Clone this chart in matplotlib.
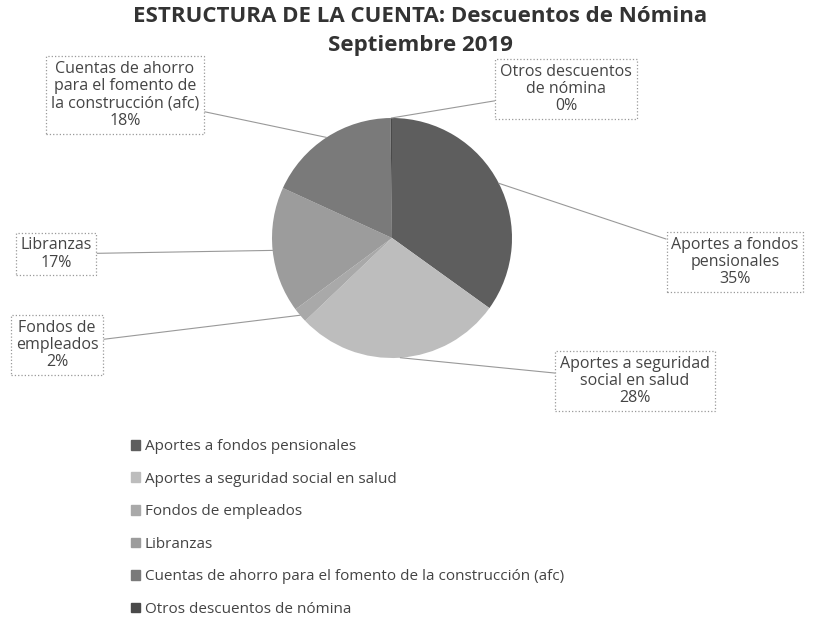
import numpy as np
import matplotlib.pyplot as plt
from matplotlib.patches import Patch

# slices, clockwise from 12 o'clock
labels = ['Aportes a fondos pensionales',
          'Aportes a seguridad social en salud',
          'Fondos de empleados',
          'Libranzas',
          'Cuentas de ahorro para el fomento de la construcción (afc)',
          'Otros descuentos de nómina']
box_labels = ['Aportes a fondos\npensionales',
              'Aportes a seguridad\nsocial en salud',
              'Fondos de\nempleados',
              'Libranzas',
              'Cuentas de ahorro\npara el fomento de\nla construcción (afc)',
              'Otros descuentos\nde nómina']
values = [35, 28, 2, 17, 18, 0.2]
pct_text = ['35%', '28%', '2%', '17%', '18%', '0%']
colors = ['#5e5e5e', '#bdbdbd', '#a9a9a9', '#9c9c9c', '#7a7a7a', '#4a4a4a']

# label box centres in pixel coords (x, y from top)
box_pos = [(735, 262), (635, 381), (57, 345), (56, 254), (125, 95), (566, 89)]

W, H = 837, 618
plt.rcParams['font.family'] = ['Open Sans', 'DejaVu Sans']

fig = plt.figure(figsize=(W/100, H/100), dpi=100)
ax = fig.add_axes([0, 0, 1, 1])

cx, cy, r = 392, 238, 120
# y axis inverted: counterclockwise in data reads clockwise on screen
wedges, _ = ax.pie(values, colors=colors, center=(cx, cy), radius=r,
                   startangle=-90, counterclock=True, frame=True,
                   wedgeprops=dict(linewidth=0))
ax.set_xlim(0, W)
ax.set_ylim(H, 0)
ax.set_aspect('equal')
ax.axis('off')

frac = np.cumsum([0] + values) / sum(values)
for i in range(len(values)):
    mid = (frac[i] + frac[i+1]) / 2 * 2*np.pi
    px = cx + r*np.sin(mid)
    py = cy - r*np.cos(mid)
    bx, by = box_pos[i]
    ax.annotate(box_labels[i] + '\n' + pct_text[i], xy=(px, py), xytext=(bx, by),
                ha='center', va='center', fontsize=11.5, color='#444444',
                linespacing=1.1,
                bbox=dict(boxstyle='square,pad=0.3', fc='white', ec='#999999',
                          ls=':', lw=0.9),
                arrowprops=dict(arrowstyle='-', color='#999999', lw=0.8,
                                shrinkA=0, shrinkB=0))

ax.text(420, 17, 'ESTRUCTURA DE LA CUENTA: Descuentos de Nómina', ha='center',
        va='center', fontsize=16, fontweight='bold', color='#333333')
ax.text(420, 45, 'Septiembre 2019', ha='center', va='center', fontsize=16,
        fontweight='bold', color='#333333')

handles = [Patch(color=c) for c in colors]
leg = ax.legend(handles, labels, loc='upper left', bbox_to_anchor=(125/W, 1 - 433/H),
                frameon=False, fontsize=11, handlelength=0.6, handleheight=0.6,
                handletextpad=0.3, labelspacing=1.15, borderaxespad=0)
for t in leg.get_texts():
    t.set_color('#444444')

fig.savefig('out.png', dpi=100)
